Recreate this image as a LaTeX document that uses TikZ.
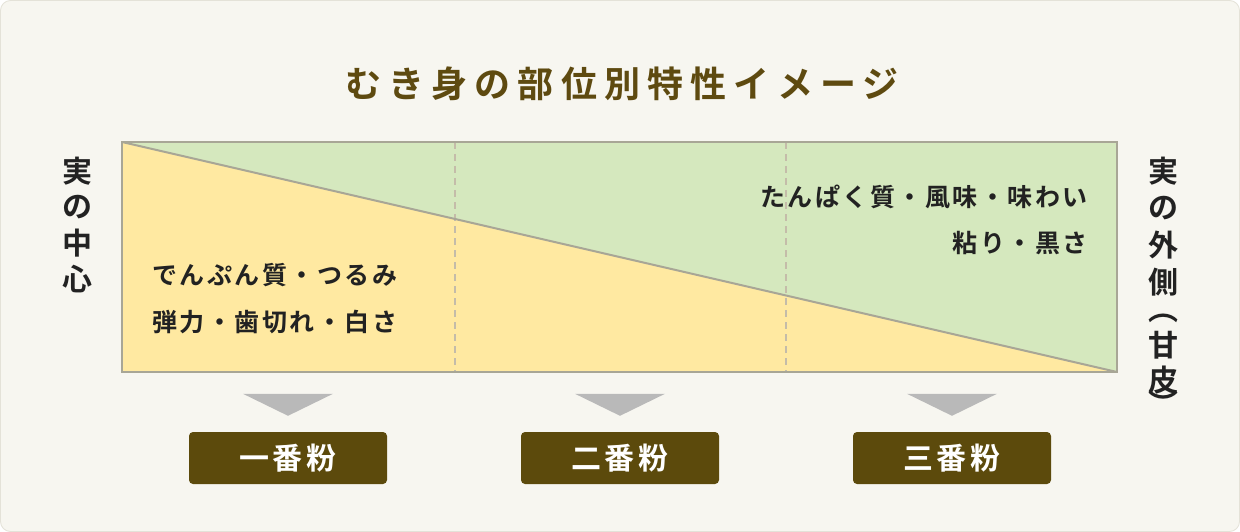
\documentclass[tikz,border=0pt]{standalone}
\usepackage{fontspec}
\setmainfont{Noto Sans CJK JP}[BoldFont={Noto Sans CJK JP Bold}]
\newfontfamily\titlef{Noto Sans CJK JP Bold}[LetterSpace=20]
\newfontfamily\bodyf{Noto Sans CJK JP Bold}[LetterSpace=10]
\newfontfamily\sidef{Noto Sans CJK JP Bold}
\newfontfamily\boxf{Noto Sans CJK JP Bold}[LetterSpace=12]
\usetikzlibrary{calc}
\definecolor{bgc}{HTML}{F7F6F0}
\definecolor{bgedge}{HTML}{E4E2D8}
\definecolor{yel}{HTML}{FFE9A1}
\definecolor{grn}{HTML}{D5E8BE}
\definecolor{framec}{HTML}{A8A696}
\definecolor{dashc}{HTML}{C4BCA9}
\definecolor{tric}{HTML}{B9B9B9}
\definecolor{brownc}{HTML}{5C4A0C}
\definecolor{titlec}{HTML}{5E4A10}
\definecolor{inkc}{HTML}{222222}
\tikzset{
  titletext/.style={inner sep=0pt, text=titlec, font=\titlef\fontsize{36}{42}\selectfont},
  bodytext/.style={inner sep=0pt, text=inkc, font=\bodyf\fontsize{25}{30}\selectfont},
  sidetext/.style={inner sep=0pt, text=inkc, font=\sidef\fontsize{30}{36}\selectfont},
  rankbox/.style={fill=brownc, rounded corners=4pt, minimum width=198pt, minimum height=52pt,
    inner sep=0pt, text=white, font=\boxf\fontsize{30}{36}\selectfont},
  divider/.style={dashc, line width=1.3pt, dash pattern=on 7pt off 5pt},
  framel/.style={framec, line width=2pt},
  marker/.style={fill=tric}
}
\begin{document}
\begin{tikzpicture}[x=1pt,y=-1pt]
\useasboundingbox (0,0) rectangle (1240,532);
\fill[white] (0,0) rectangle (1240,532);
\draw[fill=bgc, draw=bgedge, line width=0.8pt, rounded corners=10pt] (0.5,0.5) rectangle (1239.5,531.5);

% title
\node[titletext] (title) at (622,84) {むき身の部位別特性イメージ};

% chart
\coordinate (tl) at (122,142);
\coordinate (br) at (1117,372);
\coordinate (bl) at (122,372);
\coordinate (d1t) at (455,142);
\coordinate (d1b) at (455,372);
\coordinate (d2t) at (786,142);
\coordinate (d2b) at (786,372);
\fill[grn] (tl) rectangle (br);
\fill[yel] (tl) -- (br) -- (bl) -- cycle;
\draw[divider] (d1t) -- (d1b);
\draw[divider] (d2t) -- (d2b);
\draw[framel] (tl) -- (br);
\draw[framel] (tl) rectangle (br);

% texts in chart
\node[bodytext, anchor=west] (y1) at (152,275) {でんぷん質・つるみ};
\node[bodytext, anchor=west] (y2) at (152,322) {弾力・歯切れ・白さ};
\node[bodytext, anchor=east] (g1) at (1088,197) {たんぱく質・風味・味わい};
\node[bodytext, anchor=east] (g2) at (1088,243) {粘り・黒さ};

% side labels
\foreach \c/\y [count=\i] in {実/171,の/207,中/243,心/279}
  \node[sidetext] (L\i) at (77,\y) {\c};
\foreach \c/\y [count=\i] in {実/171,の/208,外/245,側/282,甘/345,皮/380}
  \node[sidetext] (R\i) at (1163,\y) {\c};
\node[sidetext] (Rpo) at (1163,318) {︵};
\node[sidetext] (Rpc) at (1163,403) {︶};

% rank boxes
\node[rankbox] (b1) at (288,458) {一番粉};
\node[rankbox] (b2) at (620,458) {二番粉};
\node[rankbox] (b3) at (952,458) {三番粉};

% markers
\foreach \b in {b1,b2,b3}
  \fill[marker] ($(\b.north)+(-45,-38)$) -- ($(\b.north)+(45,-38)$) -- ($(\b.north)+(0,-16)$) -- cycle;
\end{tikzpicture}
\end{document}
